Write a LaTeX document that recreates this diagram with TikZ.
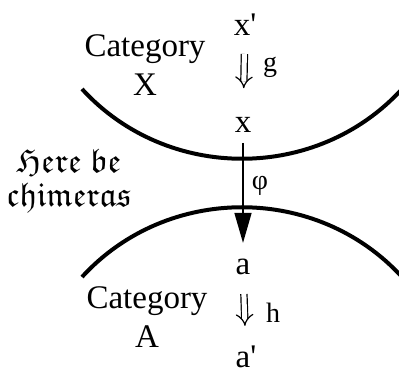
\documentclass[tikz,border=0pt]{standalone}
\usepackage{amssymb}
\usepackage{fontspec}
\setmainfont{Liberation Serif}
\usetikzlibrary{arrows.meta}
\newcommand{\blackletter}[1]{$\mathfrak{#1}$}
\newcommand{\prm}{\textquotesingle}
\tikzset{
  obj/.style={inner sep=0pt, font=\fontsize{33}{36}\selectfont},
  catlabel/.style={inner sep=0pt, align=center, font=\fontsize{33}{39}\selectfont},
  morlabel/.style={inner sep=0pt, font=\fontsize{28}{30}\selectfont},
  chimera/.style={inner sep=0pt, align=center, font=\fontsize{34}{34}\selectfont},
  boundary/.style={line width=4pt},
  functor/.style={line width=1.5pt, -{Triangle[length=30pt,width=17pt]}},
  morph/.style={double, double distance=5pt, line width=1.2pt, -{Implies[length=9pt]}}
}
\begin{document}
\begin{tikzpicture}[x=1pt,y=-1pt]
  \useasboundingbox (0,0) rectangle (399,374);

  % the two categories
  \draw[boundary] (82,89) .. controls (167,182) and (317,182) .. (402,89);
  \draw[boundary] (82,277) .. controls (167,184) and (317,184) .. (402,277);

  \node[catlabel] (catX) at (145,65) {Category\\X};
  \node[catlabel] (catA) at (147,317) {Category\\A};
  \node[chimera] (here) at (69,181) {\blackletter{Here\ be}\\\blackletter{chimeras}};

  \node[obj] (xp) at (245,25) {x\prm};
  \node[obj] (x) at (243,125) {x};
  \node[obj] (a) at (243,267) {a};
  \node[obj] (ap) at (246,357) {a\prm};

  \draw[morph, shorten <=18pt, shorten >=29pt] (xp) -- (x);
  \draw[morph, shorten <=19pt, shorten >=20pt] (a) -- (ap);
  \draw[functor, shorten <=10pt, shorten >=16pt] (x) -- (a);

  \node[morlabel] (g) at (270,67) {g};
  \node[morlabel] (h) at (273,313) {h};
  \node[morlabel] (phi) at (260,186) {φ};
\end{tikzpicture}
\end{document}
